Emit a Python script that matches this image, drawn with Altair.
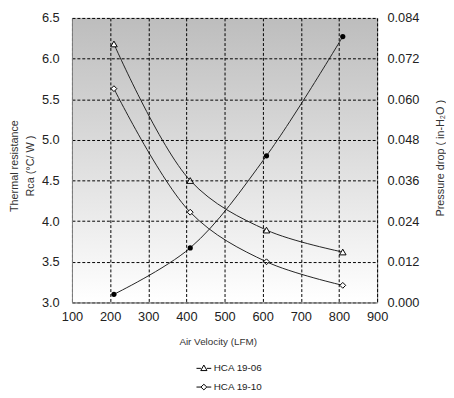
import altair as alt
import pandas as pd

# ---- data ----
velocity = [210, 410, 610, 810]
hca_19_06 = [6.18, 4.50, 3.89, 3.62]
hca_19_10 = [5.63, 4.11, 3.50, 3.21]
pressure_drop = [0.0024, 0.0161, 0.0433, 0.0785]
series_names = ["HCA 19-06", "HCA 19-10"]
x_ticks = [100, 200, 300, 400, 500, 600, 700, 800, 900]
left_ticks = [3.0, 3.5, 4.0, 4.5, 5.0, 5.5, 6.0, 6.5]
right_ticks = [0.0, 0.012, 0.024, 0.036, 0.048, 0.060, 0.072, 0.084]

FONT = "Liberation Sans"

thermal = pd.DataFrame({
    "velocity": velocity * 2,
    "rca": hca_19_06 + hca_19_10,
    "series": [series_names[0]] * len(velocity) + [series_names[1]] * len(velocity),
})
pressure = pd.DataFrame({"velocity": velocity, "pressure": pressure_drop})

x_enc = alt.X(
    "velocity:Q",
    scale=alt.Scale(domain=[x_ticks[0], x_ticks[-1]], nice=False, zero=False),
    axis=alt.Axis(
        values=x_ticks, title="Air Velocity (LFM)", grid=True, ticks=False,
        labelFlush=False, labelPadding=8, titlePadding=14, titleX=148, zindex=1,
    ),
)
y_left = alt.Y(
    "rca:Q",
    scale=alt.Scale(domain=[left_ticks[0], left_ticks[-1]], nice=False, zero=False),
    axis=alt.Axis(
        values=left_ticks, format=".1f", grid=True, ticks=False, labelPadding=13,
        labelFlush=False, zindex=1,
        title=["Thermal resistance", "Rca (°C/ W )"],
        titleAngle=270, titleAlign="center", titleBaseline="middle",
        titleX=-58, titleY=150, titleLineHeight=16, titleFontSize=11,
    ),
)

gradient = alt.LinearGradient(
    gradient="linear",
    stops=[alt.GradientStop(color="#bdbdbd", offset=0),
           alt.GradientStop(color="#ffffff", offset=1)],
    x1=0, x2=0, y1=0, y2=1,
)

background = alt.Chart(pd.DataFrame({"a": [0]})).mark_rect(color=gradient).encode(
    x=alt.value(0), x2=alt.value("width"), y=alt.value(0), y2=alt.value("height")
)

lines_t = alt.Chart(thermal).mark_line(
    interpolate="catmull-rom", color="#222222", strokeWidth=1
).encode(x=x_enc, y=y_left, detail="series:N")

tri = alt.Chart(thermal).transform_filter(
    alt.datum.series == series_names[0]
).mark_point(shape="triangle-up", size=45, filled=True, fill="white",
             stroke="black", strokeWidth=1, opacity=1).encode(x=x_enc, y=y_left)

dia = alt.Chart(thermal).transform_filter(
    alt.datum.series == series_names[1]
).mark_point(shape="diamond", size=35, filled=True, fill="white",
             stroke="black", strokeWidth=1, opacity=1).encode(x=x_enc, y=y_left)

legend_paths = [
    "M-1,0H-0.4M0.4,0H1M0,-0.45L0.42,0.3L-0.42,0.3Z",
    "M-1,0H-0.4M0.4,0H1M0,-0.38L0.4,0L0,0.38L-0.4,0Z",
]
legend_layer = alt.Chart(thermal).transform_filter("false").mark_point(
    filled=False, color="black", strokeWidth=1, opacity=1
).encode(
    x=x_enc, y=y_left,
    shape=alt.Shape(
        "series:N",
        scale=alt.Scale(domain=series_names, range=legend_paths),
        legend=alt.Legend(
            title=None, orient="none", legendX=126, legendY=348, direction="vertical",
            symbolSize=225, symbolOpacity=1,
            symbolStrokeColor="black", symbolStrokeWidth=1,
            labelFont=FONT, labelFontSize=10, labelColor="#222222",
            labelOffset=2, rowPadding=6, padding=0,
        ),
    ),
)

left = alt.layer(background, lines_t, tri, dia, legend_layer)

y_right = alt.Y(
    "pressure:Q",
    scale=alt.Scale(domain=[right_ticks[0], right_ticks[-1]], nice=False, zero=False),
    axis=alt.Axis(
        orient="right", values=right_ticks, format=".3f", grid=False, ticks=False,
        labelFlush=False, labelPadding=10, title="Pressure drop ( in-H₂O )",
        titleAngle=270, titleAlign="center", titleBaseline="middle",
        titleX=64, titleY=142, titleFontSize=11,
    ),
)

line_p = alt.Chart(pressure).mark_line(
    interpolate="catmull-rom", color="#222222", strokeWidth=1
).encode(x=x_enc, y=y_right)
pts_p = alt.Chart(pressure).mark_point(
    shape="circle", size=28, filled=True, color="black", opacity=1
).encode(x=x_enc, y=y_right)

right = alt.layer(line_p, pts_p)

chart = alt.layer(left, right).resolve_scale(y="independent").properties(
    width=310, height=289,
    autosize=alt.AutoSizeParams(type="none"),
    padding={"left": 65, "top": 7, "right": 70, "bottom": 94},
    background="white",
).configure_view(
    stroke="#808080", strokeWidth=1,
).configure_axis(
    labelFont=FONT, labelFontSize=13, labelColor="#222222",
    titleFont=FONT, titleFontSize=10, titleColor="#333333", titleFontWeight="normal",
    gridColor="#000000", gridDash=[3, 2], gridWidth=1, gridOpacity=1,
    domainColor="#808080", domainWidth=1,
)

chart.save("out.html", embed_options={"renderer": "svg", "actions": False})
